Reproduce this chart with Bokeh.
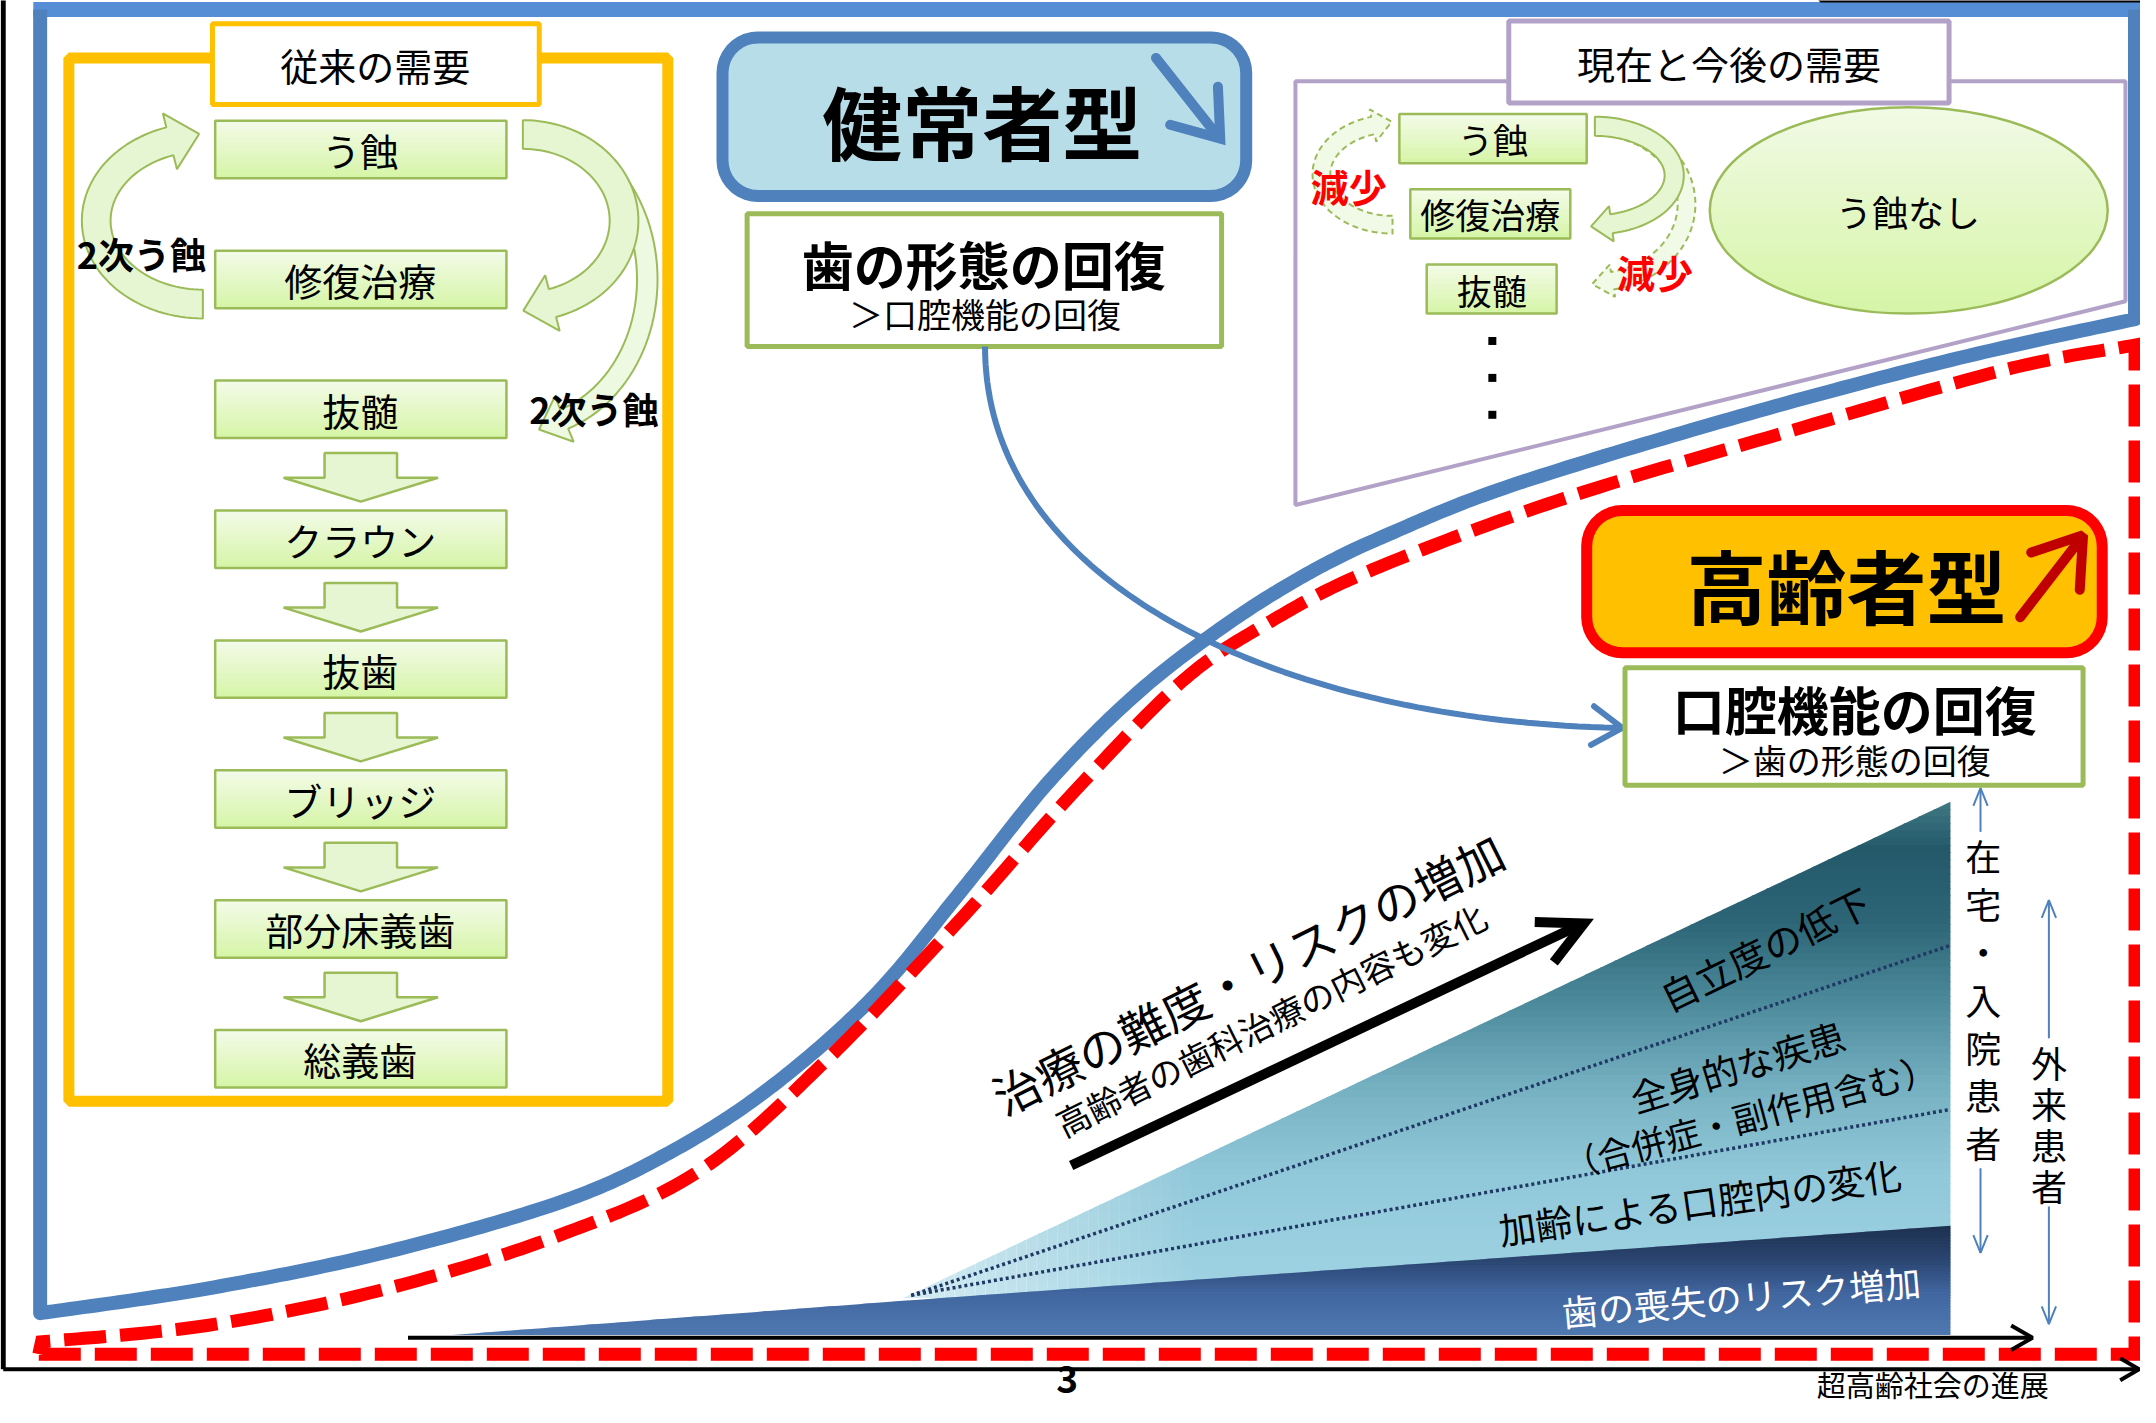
import numpy as np
from bokeh.plotting import figure
from bokeh.models import Range1d
from bokeh.core.properties import value
from bokeh.embed import file_html
from bokeh.resources import INLINE

# ---------------- content ----------------
OLD_TITLE = "従来の需要"
OLD_STEPS = ["う蝕", "修復治療", "抜髄", "クラウン", "抜歯", "ブリッジ", "部分床義歯", "総義歯"]
SECONDARY = "2次う蝕"
NEW_TITLE = "現在と今後の需要"
NEW_STEPS = ["う蝕", "修復治療", "抜髄"]
DECREASE = "減少"
NO_CARIES = "う蝕なし"
HEALTHY = "健常者型"
HEALTHY_GOAL = ["歯の形態の回復", "＞口腔機能の回復"]
ELDERLY = "高齢者型"
ELDERLY_GOAL = ["口腔機能の回復", "＞歯の形態の回復"]
DIFFICULTY = ["治療の難度・リスクの増加", "高齢者の歯科治療の内容も変化"]
WEDGE_LABELS = ["自立度の低下", "全身的な疾患", "（合併症・副作用含む）",
                "加齢による口腔内の変化", "歯の喪失のリスク増加"]
HOME_PATIENTS = "在宅・入院患者"
OUTPATIENTS = "外来患者"
X_LABEL = "超高齢社会の進展"
PAGE_NO = "3"

# ---------------- figure ----------------
p = figure(width=2140, height=1407, x_range=Range1d(2, 1567), y_range=Range1d(1033, 4),
           output_backend="svg", toolbar_location=None, min_border=0,
           x_axis_location=None, y_axis_location=None)
for g in p.grid:
    g.visible = False
p.outline_line_color = None
p.background_fill_color = "white"
p.border_fill_color = "white"
FONT = value("Noto Sans CJK JP")

BLUE = "#4F81BD"
GREEN_LINE = "#9BBB59"
ORANGE = "#FFC000"
PURPLE = "#B3A2C7"


def hex2rgb(c):
    return np.array([int(c[1:3], 16), int(c[3:5], 16), int(c[5:7], 16)], float)


def lerp_color(stops, y):
    ys = [s[0] for s in stops]
    cols = [hex2rgb(c) for _, c in stops]
    if y <= ys[0]:
        c = cols[0]
    elif y >= ys[-1]:
        c = cols[-1]
    else:
        for i in range(len(ys) - 1):
            if ys[i] <= y <= ys[i + 1]:
                f = (y - ys[i]) / (ys[i + 1] - ys[i])
                c = cols[i] * (1 - f) + cols[i + 1] * f
                break
    return "#%02x%02x%02x" % tuple(int(round(v)) for v in c)


def txt(x, y, s, size, bold=False, color="black", angle=0.0, align="center"):
    p.text(x=[x], y=[y], text=[s], text_font=FONT, text_font_size=f"{size}px",
           text_font_style="bold" if bold else "normal", text_color=color,
           text_align=align, text_baseline="middle", angle=np.radians(angle))


def rrect(x0, x1, y0, y1, r, n=10):
    pts = []
    corners = [(x1 - r, y0 + r, 270, 360), (x1 - r, y1 - r, 0, 90),
               (x0 + r, y1 - r, 90, 180), (x0 + r, y0 + r, 180, 270)]
    for cx, cy, a0, a1 in corners:
        t = np.radians(np.linspace(a0, a1, n))
        pts += list(zip(cx + r * np.cos(t), cy + r * np.sin(t)))
    xs, ys = zip(*pts)
    return list(xs), list(ys)


def curved_arrow(cx, cy, rx, ry, t0, t1, w, hl, hw, n=60):
    t = np.radians(np.linspace(t0, t1, n))
    x = cx + rx * np.cos(t)
    y = cy + ry * np.sin(t)
    dx = -rx * np.sin(t)
    dy = ry * np.cos(t)
    L = np.hypot(dx, dy)
    ux, uy = dx / L, dy / L
    nx, ny = -uy, ux
    ox, oy = x + nx * w / 2, y + ny * w / 2
    ix, iy = x - nx * w / 2, y - ny * w / 2
    ex, ey = x[-1], y[-1]
    xs = list(ox) + [ex + nx[-1] * hw, ex + ux[-1] * hl, ex - nx[-1] * hw] + list(ix[::-1])
    ys = list(oy) + [ey + ny[-1] * hw, ey + uy[-1] * hl, ey - ny[-1] * hw] + list(iy[::-1])
    return xs, ys


def vhead(tx, ty, fx, fy, length, half_deg):
    d = np.array([fx - tx, fy - ty], float)
    d /= np.hypot(*d)
    out = []
    for a in (np.radians(half_deg), -np.radians(half_deg)):
        v = np.array([d[0] * np.cos(a) - d[1] * np.sin(a), d[0] * np.sin(a) + d[1] * np.cos(a)])
        out.append((tx + v[0] * length, ty + v[1] * length))
    return [out[0][0], tx, out[1][0]], [out[0][1], ty, out[1][1]]


def smooth(pts, n=24):
    P = np.array(pts, float)
    P = np.vstack([P[0], P, P[-1]])
    out = []
    for i in range(1, len(P) - 2):
        p0, p1, p2, p3 = P[i - 1], P[i], P[i + 1], P[i + 2]
        for t in np.linspace(0, 1, n, endpoint=False):
            out.append(0.5 * ((2 * p1) + (-p0 + p2) * t + (2 * p0 - 5 * p1 + 4 * p2 - p3) * t * t
                              + (-p0 + 3 * p1 - 3 * p2 + p3) * t ** 3))
    out.append(P[-2])
    out = np.array(out)
    return list(out[:, 0]), list(out[:, 1])


def gradient_quads(boxes, top, bot, n=14):
    L, R, T, B, C = [], [], [], [], []
    for x0, x1, y0, y1 in boxes:
        ys = np.linspace(y0, y1, n + 1)
        for i in range(n):
            L.append(x0); R.append(x1); T.append(ys[i]); B.append(min(ys[i + 1] + 0.6, y1))
            C.append(lerp_color([(0, top), (1, bot)], (i + 0.5) / n))
    p.quad(left=L, right=R, top=T, bottom=B, fill_color=C, line_color=None)
    p.quad(left=[b[0] for b in boxes], right=[b[1] for b in boxes],
           top=[b[2] for b in boxes], bottom=[b[3] for b in boxes],
           fill_color=None, line_color=GREEN_LINE, line_width=2.5)


# ---------------- wedge (risk triangle) ----------------
APEX = (662, 953)
WEDGE_RIGHT = 1428
WEDGE_TOP = 590
BAND_TOP = 900
BAND_BOTTOM = 980
BAND_TIP = 332
BAND_KINK_Y = 955

def upper_x(y):
    return WEDGE_RIGHT - (y - WEDGE_TOP) / (APEX[1] - WEDGE_TOP) * (WEDGE_RIGHT - APEX[0])

up_stops = [(590, "#3F7883"), (625, "#24596A"), (680, "#2D6677"), (740, "#4E8C9D"),
            (800, "#76B1C2"), (860, "#90C8D9"), (955, "#A0D4E4")]
xs, ys, cs = [], [], []
yy = np.linspace(WEDGE_TOP, APEX[1], 70)
for i in range(len(yy) - 1):
    ya, yb = yy[i], min(yy[i + 1] + 0.7, APEX[1])
    xs.append([upper_x(ya), WEDGE_RIGHT, WEDGE_RIGHT, upper_x(yb)])
    ys.append([ya, ya, yb, yb])
    cs.append(lerp_color(up_stops, (ya + yb) / 2))
p.patches(xs, ys, fill_color=cs, line_color=None)

def band_top_y(x):
    if x >= APEX[0]:
        return BAND_KINK_Y - (x - APEX[0]) / (WEDGE_RIGHT - APEX[0]) * (BAND_KINK_Y - BAND_TOP)
    return BAND_BOTTOM - (x - BAND_TIP) / (APEX[0] - BAND_TIP) * (BAND_BOTTOM - BAND_KINK_Y)

def upper_y(x):
    return APEX[1] - (x - APEX[0]) / (WEDGE_RIGHT - APEX[0]) * (APEX[1] - WEDGE_TOP)

# white fade near the apex
xs, ys, al = [], [], []
xx = np.linspace(APEX[0], 880, 30)
for i in range(len(xx) - 1):
    xa, xb = xx[i], xx[i + 1] + 0.5
    xs.append([xa, xb, xb, xa])
    ys.append([upper_y(xa) - 1, upper_y(xb) - 1, band_top_y(xb), band_top_y(xa)])
    al.append(0.55 * (1 - (i + 0.5) / (len(xx) - 1)))
p.patches(xs, ys, fill_color="white", fill_alpha=al, line_color=None)

# tooth-loss band
band_stops = [(900, "#1D304F"), (925, "#2B4571"), (950, "#4166A0"), (980, "#4F79B0")]
def band_left(y):
    if y <= BAND_KINK_Y:
        return WEDGE_RIGHT - (y - BAND_TOP) / (BAND_KINK_Y - BAND_TOP) * (WEDGE_RIGHT - APEX[0])
    return APEX[0] - (y - BAND_KINK_Y) / (BAND_BOTTOM - BAND_KINK_Y) * (APEX[0] - BAND_TIP)

xs, ys, cs = [], [], []
ylist = list(np.linspace(BAND_TOP, BAND_KINK_Y, 26)) + list(np.linspace(BAND_KINK_Y, BAND_BOTTOM, 14))[1:]
for i in range(len(ylist) - 1):
    ya, yb = ylist[i], min(ylist[i + 1] + 0.6, BAND_BOTTOM)
    xs.append([band_left(ya), WEDGE_RIGHT, WEDGE_RIGHT, band_left(yb)])
    ys.append([ya, ya, yb, yb])
    cs.append(lerp_color(band_stops, (ya + yb) / 2))
p.patches(xs, ys, fill_color=cs, line_color=None)

# dotted dividers
DOT_START = (668, 951)
DOT_ENDS_Y = [695, 815]
for ye in DOT_ENDS_Y:
    p.line([DOT_START[0], WEDGE_RIGHT], [DOT_START[1], ye], line_color="#1F3864",
           line_width=3.5, line_dash="3 3")

# wedge labels
WEDGE_POS = [(1292, 697, 26, 38, "black"), (1272, 783, 17, 37, "black"),
             (1281, 819, 15, 35, "black"), (1245, 882, 8, 37, "black"),
             (1275, 951, 5, 36, "white")]
for s, (x, y, a, fs, col) in zip(WEDGE_LABELS, WEDGE_POS):
    txt(x, y, s, fs, color=col, angle=a)

# ---------------- big curves ----------------
BLUE_PTS = [(31, 964), (153, 946), (281, 920), (408, 884), (485, 850), (561, 802), (639, 734),
            (704, 656), (769, 575), (834, 510), (899, 460), (960, 422), (1018, 394),
            (1106, 359), (1267, 310), (1428, 267), (1563, 237)]
RED_PTS = [(32, 985), (153, 973), (281, 947), (408, 908), (513, 860), (606, 779), (704, 676),
           (785, 585), (866, 502), (931, 458), (1006, 420), (1146, 368), (1307, 320),
           (1468, 274), (1563, 256)]

bx, by = smooth(BLUE_PTS)
p.line([26, 1568], [10.5, 10.5], line_color="#558ED5", line_width=15)
p.line([1563, 1563] + bx[::-1] + [31, 31], [10.5, 237] + by[::-1] + [964, 10.5],
       line_color=BLUE, line_width=14, line_join="round")

rx_, ry_ = smooth(RED_PTS)
p.line([30, 1563, 1563] + rx_[::-1] + [30], [994, 994, 256] + ry_[::-1] + [994],
       line_color="#FF0000", line_width=13, line_dash="42 14", line_join="miter")

# ---------------- black frame ----------------
p.line([4, 4], [0, 1005], line_color="black", line_width=5)
p.line([4, 1566], [1005, 1005], line_color="black", line_width=4)
hx, hy = vhead(1566, 1005, 1500, 1005, 16, 30)
p.line(hx, hy, line_color="black", line_width=4)
p.line([1333, 1333, 1568], [0, 4, 4], line_color="black", line_width=4)

# wedge base arrow
p.line([300, 1486], [982, 982], line_color="black", line_width=4)
hx, hy = vhead(1488, 982, 1400, 982, 18, 30)
p.line(hx, hy, line_color="black", line_width=4)

# ---------------- old demand (left) ----------------
OLD_FRAME = (52, 490, 46, 809)
p.quad(left=[OLD_FRAME[0]], right=[OLD_FRAME[1]], top=[OLD_FRAME[2]], bottom=[OLD_FRAME[3]],
       fill_color=None, line_color=ORANGE, line_width=11)
p.quad(left=[157], right=[396], top=[21], bottom=[80], fill_color="white",
       line_color=ORANGE, line_width=5)
txt(276, 51, OLD_TITLE, 38)

OLD_X = (159, 372)
old_cy = [113 + 95 * i for i in range(len(OLD_STEPS))]
ARW_FILL = "#E6F6D2"

# curved secondary-caries arrows
ax, ay = curved_arrow(385, 208, 90, 108, 270, 431, 15, 20, 18)
p.patch(ax, ay, fill_color="#EEF9E2", line_color=GREEN_LINE, line_width=2)
ax, ay = curved_arrow(384, 165, 74, 63, 270, 433, 21, 22, 21)
p.patch(ax, ay, fill_color=ARW_FILL, line_color=GREEN_LINE, line_width=2)
ax, ay = curved_arrow(150, 165, 78, 61, 90, 252, 21, 22, 21)
p.patch(ax, ay, fill_color=ARW_FILL, line_color=GREEN_LINE, line_width=2)

# down arrows between steps
dxs, dys = [], []
for i in range(2, len(OLD_STEPS) - 1):
    b = old_cy[i] + 21
    st, hs, tp = b + 11, b + 29, b + 46.5
    dxs.append([239, 292, 292, 322, 265.5, 209, 239])
    dys.append([st, st, hs, hs, tp, hs, hs])
p.patches(dxs, dys, fill_color=ARW_FILL, line_color=GREEN_LINE, line_width=2.5)

gradient_quads([(OLD_X[0], OLD_X[1], c - 21, c + 21) for c in old_cy], "#F3FBE9", "#D6F5A6")
for s, c in zip(OLD_STEPS, old_cy):
    txt(265, c, s, 38)

txt(105, 189, SECONDARY, 36, bold=True)
txt(436, 302, SECONDARY, 36, bold=True)

# ---------------- healthy type ----------------
hx_, hy_ = rrect(530, 913, 31, 147, 26)
p.patch(hx_, hy_, fill_color="#B7DEE8", line_color=BLUE, line_width=12)
txt(720, 91, HEALTHY, 80, bold=True)
p.line([847, 892], [46, 103], line_color=BLUE, line_width=10, line_cap="round")
hx, hy = vhead(894, 105, 847, 46, 38, 36)
p.line(hx, hy, line_color=BLUE, line_width=10, line_cap="round", line_join="miter")

p.quad(left=[548], right=[895], top=[160], bottom=[257], fill_color="white",
       line_color=GREEN_LINE, line_width=5)
txt(721, 196, HEALTHY_GOAL[0], 52, bold=True)
txt(722, 233, HEALTHY_GOAL[1], 34)

# blue transition arrow
t = np.linspace(0, 1, 80)
P0, P1, P2, P3 = np.array([722, 257]), np.array([722, 430]), np.array([935, 530]), np.array([1184, 536])
curve = (np.outer((1 - t) ** 3, P0) + np.outer(3 * (1 - t) ** 2 * t, P1)
         + np.outer(3 * (1 - t) * t ** 2, P2) + np.outer(t ** 3, P3))
p.line(curve[:, 0], curve[:, 1], line_color=BLUE, line_width=6)
hx, hy = vhead(1188, 536, 1150, 533, 26, 33)
p.line(hx, hy, line_color=BLUE, line_width=6, line_cap="round")

# ---------------- current / future demand ----------------
p.patch([949, 1556, 1556, 949], [63, 63, 224, 373], fill_color=None,
        line_color=PURPLE, line_width=4)
p.quad(left=[1105], right=[1427], top=[19], bottom=[79], fill_color="white",
       line_color=PURPLE, line_width=5)
txt(1266, 49, NEW_TITLE, 38)

ax, ay = curved_arrow(1168, 153, 67, 57, 270, 439, 13, 15, 12)
p.patch(ax, ay, fill_color="#F1FAE6", line_color=GREEN_LINE, line_width=2, line_dash="6 4")
ax, ay = curved_arrow(1168, 132, 58, 36, 270, 438, 14, 15, 13)
p.patch(ax, ay, fill_color=ARW_FILL, line_color=GREEN_LINE, line_width=2)
ax, ay = curved_arrow(1020, 131, 52, 37, 90, 254, 13, 14, 12)
p.patch(ax, ay, fill_color="#F1FAE6", line_color=GREEN_LINE, line_width=2, line_dash="6 4")

NEW_BOXES = [(1025, 1162, 87, 123), (1033, 1150, 142, 178), (1045, 1140, 197, 233)]
gradient_quads(NEW_BOXES, "#F3FBE9", "#D6F5A6", n=10)
for s, (x0, x1, y0, y1) in zip(NEW_STEPS, NEW_BOXES):
    txt((x0 + x1) / 2, (y0 + y1) / 2, s, 35)

txt(988, 139, DECREASE, 38, bold=True, color="#FF0000")
txt(1212, 202, DECREASE, 38, bold=True, color="#FF0000")

p.scatter([1093, 1093, 1093], [253, 280, 307], marker="square", size=8,
          fill_color="black", line_color=None)

# "no caries" ellipse with gradient
ECX, ECY, ERX, ERY = 1397.5, 157.5, 145.5, 75.5
xs, ys, cs = [], [], []
yy = np.linspace(ECY - ERY, ECY + ERY, 50)
for i in range(len(yy) - 1):
    ya, yb = yy[i], min(yy[i + 1] + 0.6, ECY + ERY)
    ha = ERX * np.sqrt(max(0.0, 1 - ((ya - ECY) / ERY) ** 2))
    hb = ERX * np.sqrt(max(0.0, 1 - ((yb - ECY) / ERY) ** 2))
    xs.append([ECX - ha, ECX + ha, ECX + hb, ECX - hb])
    ys.append([ya, ya, yb, yb])
    cs.append(lerp_color([(0, "#F1FAE6"), (1, "#D6F5A6")], (i + 0.5) / (len(yy) - 1)))
p.patches(xs, ys, fill_color=cs, line_color=None)
p.ellipse(x=[ECX], y=[ECY], width=[2 * ERX], height=[2 * ERY], fill_color=None,
          line_color=GREEN_LINE, line_width=2.5)
txt(1397, 158, NO_CARIES, 36)

# ---------------- elderly type ----------------
ex_, ey_ = rrect(1162, 1539, 377, 481, 26)
p.patch(ex_, ey_, fill_color=ORANGE, line_color="#FF0000", line_width=11)
txt(1352, 430, ELDERLY, 80, bold=True)
p.line([1479, 1523], [455, 398], line_color="#C00000", line_width=10, line_cap="round")
hx, hy = vhead(1525, 395, 1479, 455, 40, 34)
p.line(hx, hy, line_color="#C00000", line_width=10, line_cap="round")

p.quad(left=[1190], right=[1525], top=[492], bottom=[578], fill_color="white",
       line_color=GREEN_LINE, line_width=5)
txt(1358, 522, ELDERLY_GOAL[0], 52, bold=True)
txt(1358, 559, ELDERLY_GOAL[1], 34)

# ---------------- difficulty arrow ----------------
p.line([785, 1155], [856, 681], line_color="black", line_width=10)
hx, hy = vhead(1160, 679, 785, 856, 36, 27)
p.line(hx, hy, line_color="black", line_width=10, line_join="miter")
txt(914, 715, DIFFICULTY[0], 47, angle=26.5)
txt(931, 749, DIFFICULTY[1], 34, angle=26.5)

# ---------------- patient ranges ----------------
HOME_X, OUT_X = 1452, 1500
home_y = [629, 664, 699, 734, 769, 804, 839]
for ch, y in zip(HOME_PATIENTS, home_y):
    txt(HOME_X, y, ch, 36)
out_y = [780, 810, 840, 870]
for ch, y in zip(OUTPATIENTS, out_y):
    txt(OUT_X, y, ch, 36)

for x, ya, yb, tip in [(1450, 580, 612, 580), (1450, 858, 920, 920),
                       (1500, 662, 763, 662), (1500, 886, 972, 972)]:
    p.line([x, x], [ya, yb], line_color=BLUE, line_width=2)
    other = yb if tip == ya else ya
    hx, hy = vhead(x, tip, x, other, 14, 22)
    p.line(hx, hy, line_color=BLUE, line_width=2)

# ---------------- bottom texts ----------------
txt(782, 1012.5, PAGE_NO, 37, bold=True)
txt(1415, 1016, X_LABEL, 29)

open("out.html", "w").write(file_html(p, INLINE))
